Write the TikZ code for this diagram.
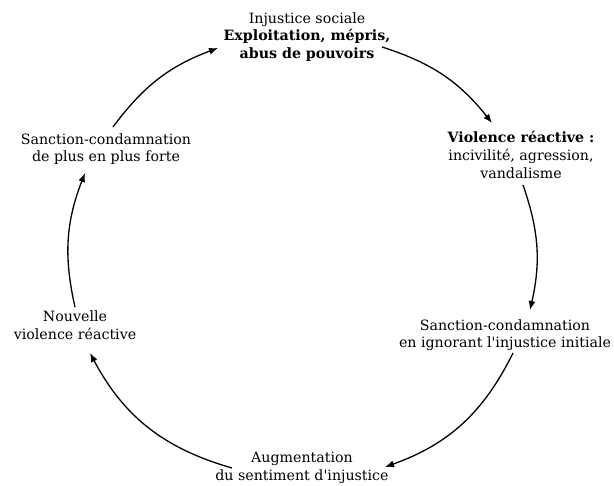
\documentclass[tikz,border=0pt]{standalone}
\usepackage{fontspec}
\setmainfont{DejaVu Serif}[Ligatures=TeXOff]
\usetikzlibrary{arrows.meta}
\begin{document}
\begin{tikzpicture}[x=1pt,y=-1pt,
  lbl/.style={align=center,font=\fontsize{14.2}{17.6}\selectfont,inner sep=1pt},
  arr/.style={-{Latex[length=9pt,width=7pt]},line width=1.3pt}]
\useasboundingbox (0,0) rectangle (614,486);
\node[lbl] (top) at (307,37) {Injustice sociale\\\textbf{Exploitation, mépris,}\\\textbf{abus de pouvoirs}};
\node[lbl] (vr) at (521,155) {\textbf{Violence réactive :}\\incivilité, agression,\\vandalisme};
\node[lbl] (sc) at (505,335) {Sanction-condamnation\\en ignorant l'injustice initiale};
\node[lbl] (aug) at (302,468) {Augmentation\\du sentiment d'injustice};
\node[lbl] (nv) at (75,325) {Nouvelle\\violence réactive};
\node[lbl] (sp) at (106,149) {Sanction-condamnation\\de plus en plus forte};
\draw[arr] ([shift={(75,10)}]top.center) to[bend left=17] ([shift={(-29,-32)}]vr.center);
\draw[arr] ([shift={(2,30)}]vr.center) to[bend left=16] ([shift={(25,-25)}]sc.center);
\draw[arr] ([shift={(8,18)}]sc.center) to[bend left=22] ([shift={(83,-1)}]aug.center);
\draw[arr] ([shift={(-70,0)}]aug.center) to[bend left=23] ([shift={(15,28)}]nv.center);
\draw[arr] ([shift={(0,-18)}]nv.center) to[bend left=17] ([shift={(-21,24)}]sp.center);
\draw[arr] ([shift={(7,-22)}]sp.center) to[bend left=16.5] ([shift={(-89,11)}]top.center);
\end{tikzpicture}
\end{document}
